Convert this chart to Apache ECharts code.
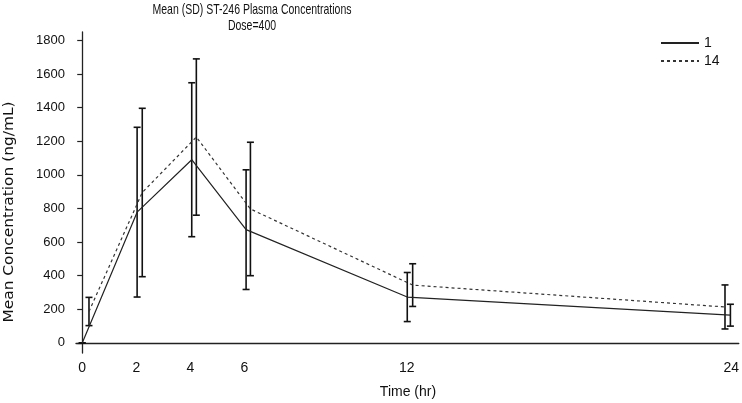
<!DOCTYPE html>
<html>
<head>
<meta charset="utf-8">
<script src="https://cdn.jsdelivr.net/npm/echarts@6/dist/echarts.min.js"></script>
<style>
  html, body { margin: 0; padding: 0; background: #fff; }
  #chart { width: 742px; height: 403px; }
</style>
</head>
<body>
<div id="chart"></div>
<script>
// ---- data ----
var seriesNames = ['1', '14'];
// plotted time (hr); day 14 points are drawn slightly offset in the reference
var day1Time  = [0, 2.03, 4.05, 6.06, 12.02, 23.97];
var day1Mean  = [0, 778, 1090, 674, 273, 165];
var day1SD    = [0, 505, 458, 356, 146, 65];
var day14Time = [0.25, 2.22, 4.22, 6.22, 12.22, 23.77];
var day14Mean = [187, 895, 1225, 797, 344, 214];
var day14SD   = [84, 501, 465, 397, 127, 131];
var xTickValues = [0, 2, 4, 6, 12, 24];
var yTickValues = [0, 200, 400, 600, 800, 1000, 1200, 1400, 1600, 1800];
var titleLines = ['Mean (SD) ST-246 Plasma Concentrations', 'Dose=400'];
var xTitle = 'Time (hr)';
var yTitle = 'Mean Concentration (ng/mL)';

function pairs(t, v) { return t.map(function (x, i) { return [x, v[i]]; }); }
function barData(t, m, s) { return t.map(function (x, i) { return [x, m[i] - s[i], m[i] + s[i]]; }); }

function errRender(params, api) {
  var x = api.value(0);
  var lo = api.coord([x, api.value(1)]);
  var hi = api.coord([x, api.value(2)]);
  var hw = 3.5;
  var st = { stroke: '#111', lineWidth: 1.6 };
  return {
    type: 'group',
    children: [
      { type: 'line', shape: { x1: lo[0], y1: lo[1], x2: hi[0], y2: hi[1] }, style: st },
      { type: 'line', shape: { x1: lo[0] - hw, y1: lo[1], x2: lo[0] + hw, y2: lo[1] }, style: st },
      { type: 'line', shape: { x1: hi[0] - hw, y1: hi[1], x2: hi[0] + hw, y2: hi[1] }, style: st }
    ]
  };
}

var font = '"Liberation Sans", Arial, sans-serif';
var plain = function (v) { return String(v); };

var chart = echarts.init(document.getElementById('chart'), null, { renderer: 'canvas' });
chart.setOption({
  animation: false,
  backgroundColor: '#fff',
  grid: { left: 76, right: 0, top: 32, bottom: 50 },
  xAxis: {
    type: 'value', min: -0.23, max: 24.28,
    axisLine: { lineStyle: { color: '#222', width: 1.3 } },
    axisTick: { show: false },
    splitLine: { show: false },
    axisLabel: { customValues: xTickValues, formatter: plain, color: '#111', fontFamily: font, fontSize: 14, margin: 8 }
  },
  yAxis: {
    type: 'value', min: -60, max: 1850,
    axisLine: { show: true, lineStyle: { color: '#222', width: 1.3 } },
    axisTick: { show: true, customValues: yTickValues, length: 5, lineStyle: { color: '#222', width: 1.2 } },
    splitLine: { show: false },
    axisLabel: { customValues: yTickValues, formatter: plain, color: '#111', fontFamily: font, fontSize: 13, margin: 11 }
  },
  legend: {
    data: seriesNames,
    orient: 'vertical',
    left: 660, top: 36, padding: 0,
    itemWidth: 38, itemHeight: 14, itemGap: 4,
    itemStyle: { opacity: 0 },
    textStyle: { color: '#111', fontFamily: font, fontSize: 14 }
  },
  graphic: [
    { type: 'text', x: 252, y: 10, scaleX: 0.7, style: { text: titleLines[0], fill: '#111', font: '15px ' + font, textAlign: 'center', textVerticalAlign: 'middle' } },
    { type: 'text', x: 252, y: 26, scaleX: 0.7, style: { text: titleLines[1], fill: '#111', font: '15px ' + font, textAlign: 'center', textVerticalAlign: 'middle' } },
    { type: 'text', x: 408, y: 392, style: { text: xTitle, fill: '#111', font: '14px ' + font, textAlign: 'center', textVerticalAlign: 'middle' } },
    { type: 'text', x: 9, y: 212, rotation: Math.PI / 2, scaleX: 1.1, style: { text: yTitle, fill: '#111', font: '14px "DejaVu Sans", sans-serif', textAlign: 'center', textVerticalAlign: 'middle' } }
  ],
  series: [
    { name: seriesNames[0], type: 'line', data: pairs(day1Time, day1Mean), symbol: 'circle', showSymbol: false,
      lineStyle: { color: '#222', width: 1.2, type: 'solid' }, itemStyle: { color: '#222' } },
    { name: seriesNames[1], type: 'line', data: pairs(day14Time, day14Mean), symbol: 'circle', showSymbol: false,
      lineStyle: { color: '#333', width: 1.2, type: [3, 3] }, itemStyle: { color: '#333' } },
    { name: 'sd1', type: 'custom', renderItem: errRender, data: barData(day1Time, day1Mean, day1SD), encode: { x: 0, y: [1, 2] }, z: 3 },
    { name: 'sd14', type: 'custom', renderItem: errRender, data: barData(day14Time, day14Mean, day14SD), encode: { x: 0, y: [1, 2] }, z: 3 }
  ]
});
</script>
</body>
</html>
